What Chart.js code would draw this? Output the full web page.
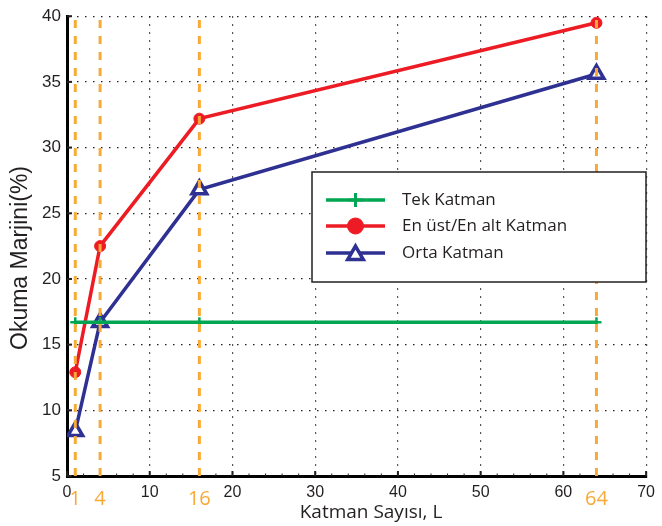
<!DOCTYPE html>
<html>
<head>
<meta charset="utf-8">
<script src="https://cdn.jsdelivr.net/npm/chart.js@4.4.0/dist/chart.umd.min.js"></script>
<style>
  html, body { margin: 0; padding: 0; background: #fff; }
</style>
</head>
<body>
<canvas id="myChart" width="662" height="526"></canvas>
<script>
// katman sayisi (x) and okuma marjini (%) per series
const katmanlar = [1, 4, 16, 64];
const tekKatman = [16.7, 16.7, 16.7, 16.7];
const enUstAlt = [12.9, 22.5, 32.2, 39.5];
const ortaKatman = [8.4, 16.7, 26.8, 35.6];
const seriesNames = ["Tek Katman", "En üst/En alt Katman", "Orta Katman"];
const xRange = [0, 70];
const yRange = [5, 40];

const INK = "#231F20";
const ORANGE = "#F8A936";
const GREEN = "#00A651";
const RED = "#ED1C24";
const BLUE = "#2E3192";

const toPoints = (ys) => katmanlar.map((x, i) => ({ x: x, y: ys[i] }));

// dashed orange guides at each layer count, full height
const guides = katmanlar.map((x) => ({
  data: [{ x: x, y: yRange[0] }, { x: x, y: yRange[1] }],
  borderColor: ORANGE,
  borderWidth: 3,
  borderDash: [8, 8],
  pointRadius: 0,
  order: 0,
}));

const series = [
  {
    label: seriesNames[0],
    data: toPoints(tekKatman),
    borderColor: GREEN,
    backgroundColor: GREEN,
    borderWidth: 3.5,
    pointStyle: "cross",
    pointRadius: 5,
    pointBorderWidth: 2.5,
    order: 1,
  },
  {
    label: seriesNames[1],
    data: toPoints(enUstAlt),
    borderColor: RED,
    backgroundColor: RED,
    borderWidth: 3.5,
    pointStyle: "circle",
    pointRadius: 5.5,
    pointBorderWidth: 1,
    order: 1,
  },
  {
    label: seriesNames[2],
    data: toPoints(ortaKatman),
    borderColor: BLUE,
    backgroundColor: "#fff",
    borderWidth: 3.5,
    pointStyle: "triangle",
    pointRadius: 8.5,
    pointBorderWidth: 3.5,
    order: 1,
  },
];

// legend box, inward ticks, orange layer labels and axis titles
const extras = {
  id: "extras",
  beforeDatasetsDraw(chart) {
    const { ctx, chartArea, scales } = chart;
    ctx.save();
    ctx.strokeStyle = INK;
    ctx.lineWidth = 2;
    scales.y.ticks.forEach((t) => {
      const y = scales.y.getPixelForValue(t.value);
      ctx.beginPath();
      ctx.moveTo(chartArea.left, y);
      ctx.lineTo(chartArea.left + 5, y);
      ctx.stroke();
    });
    scales.x.ticks.forEach((t) => {
      const x = scales.x.getPixelForValue(t.value);
      ctx.beginPath();
      ctx.moveTo(x, chartArea.bottom);
      ctx.lineTo(x, chartArea.bottom - 5);
      ctx.stroke();
    });
    ctx.lineWidth = 1;
    for (let v = xRange[0] + 2; v < xRange[1]; v += 2) {
      const x = scales.x.getPixelForValue(v);
      ctx.beginPath();
      ctx.moveTo(x, chartArea.bottom);
      ctx.lineTo(x, chartArea.bottom - 2.5);
      ctx.stroke();
    }
    ctx.restore();
  },
  afterDatasetsDraw(chart) {
    const { ctx, scales } = chart;
    ctx.save();

    // legend
    ctx.fillStyle = "#fff";
    ctx.fillRect(312, 172, 334, 110);
    ctx.strokeStyle = INK;
    ctx.lineWidth = 1.5;
    ctx.strokeRect(312, 172, 334, 110);

    const rows = [200, 226, 253];
    const marks = [
      { pointStyle: "cross", radius: 7, borderWidth: 3 },
      { pointStyle: "circle", radius: 8, borderWidth: 1 },
      { pointStyle: "triangle", radius: 9, borderWidth: 3.5 },
    ];
    series.forEach((ds, i) => {
      const y = rows[i];
      ctx.strokeStyle = ds.borderColor;
      ctx.lineWidth = 3.5;
      ctx.setLineDash([]);
      ctx.beginPath();
      ctx.moveTo(326, y);
      ctx.lineTo(385, y);
      ctx.stroke();
      ctx.fillStyle = ds.backgroundColor;
      ctx.lineWidth = marks[i].borderWidth;
      Chart.helpers.drawPoint(ctx, { ...marks[i], rotation: 0 }, 355.5, y + (i === 2 ? 2 : 0));
      ctx.fillStyle = INK;
      ctx.font = "17px 'Open Sans'";
      ctx.textAlign = "left";
      ctx.textBaseline = "middle";
      ctx.fillText(ds.label, 402, y);
    });

    // orange labels under the axis
    ctx.fillStyle = ORANGE;
    ctx.font = "20px 'Open Sans'";
    ctx.textAlign = "center";
    ctx.textBaseline = "middle";
    katmanlar.forEach((k) => {
      ctx.fillText(String(k), scales.x.getPixelForValue(k), 499);
    });

    // axis titles
    ctx.fillStyle = INK;
    ctx.font = "19px 'Open Sans'";
    ctx.fillText("Katman Sayısı, L", 371, 513);
    ctx.translate(21, 258);
    ctx.rotate(-Math.PI / 2);
    ctx.font = "23px 'Liberation Sans'";
    ctx.fillText("Okuma Marjini(%)", 0, 0);
    ctx.restore();
  },
};

const ctx = document.getElementById("myChart");
const myChart = new Chart(ctx, {
  type: "line",
  data: { datasets: [...guides, ...series] },
  options: {
    responsive: false,
    animation: false,
    layout: { padding: { top: 13, right: 11, left: 0, bottom: 0 } },
    plugins: { legend: { display: false }, tooltip: { enabled: false } },
    scales: {
      x: {
        type: "linear",
        min: xRange[0],
        max: xRange[1],
        afterFit: (scale) => { scale.height = 50; },
        ticks: {
          stepSize: 10,
          padding: 7,
          color: INK,
          font: { family: "'Liberation Sans'", size: 16 },
        },
        grid: { color: INK, lineWidth: 1.2, drawTicks: false },
        border: { color: "#000", width: 3, dash: [1.5, 6.5] },
      },
      y: {
        min: yRange[0],
        max: yRange[1],
        afterFit: (scale) => { scale.width = 67; },
        ticks: {
          stepSize: 5,
          padding: 6,
          color: INK,
          font: { family: "'Liberation Sans'", size: 17 },
        },
        grid: { color: INK, lineWidth: 1.2, drawTicks: false },
        border: { color: "#000", width: 3, dash: [1.5, 6.5] },
      },
    },
  },
  plugins: [extras],
});
</script>
</body>
</html>
